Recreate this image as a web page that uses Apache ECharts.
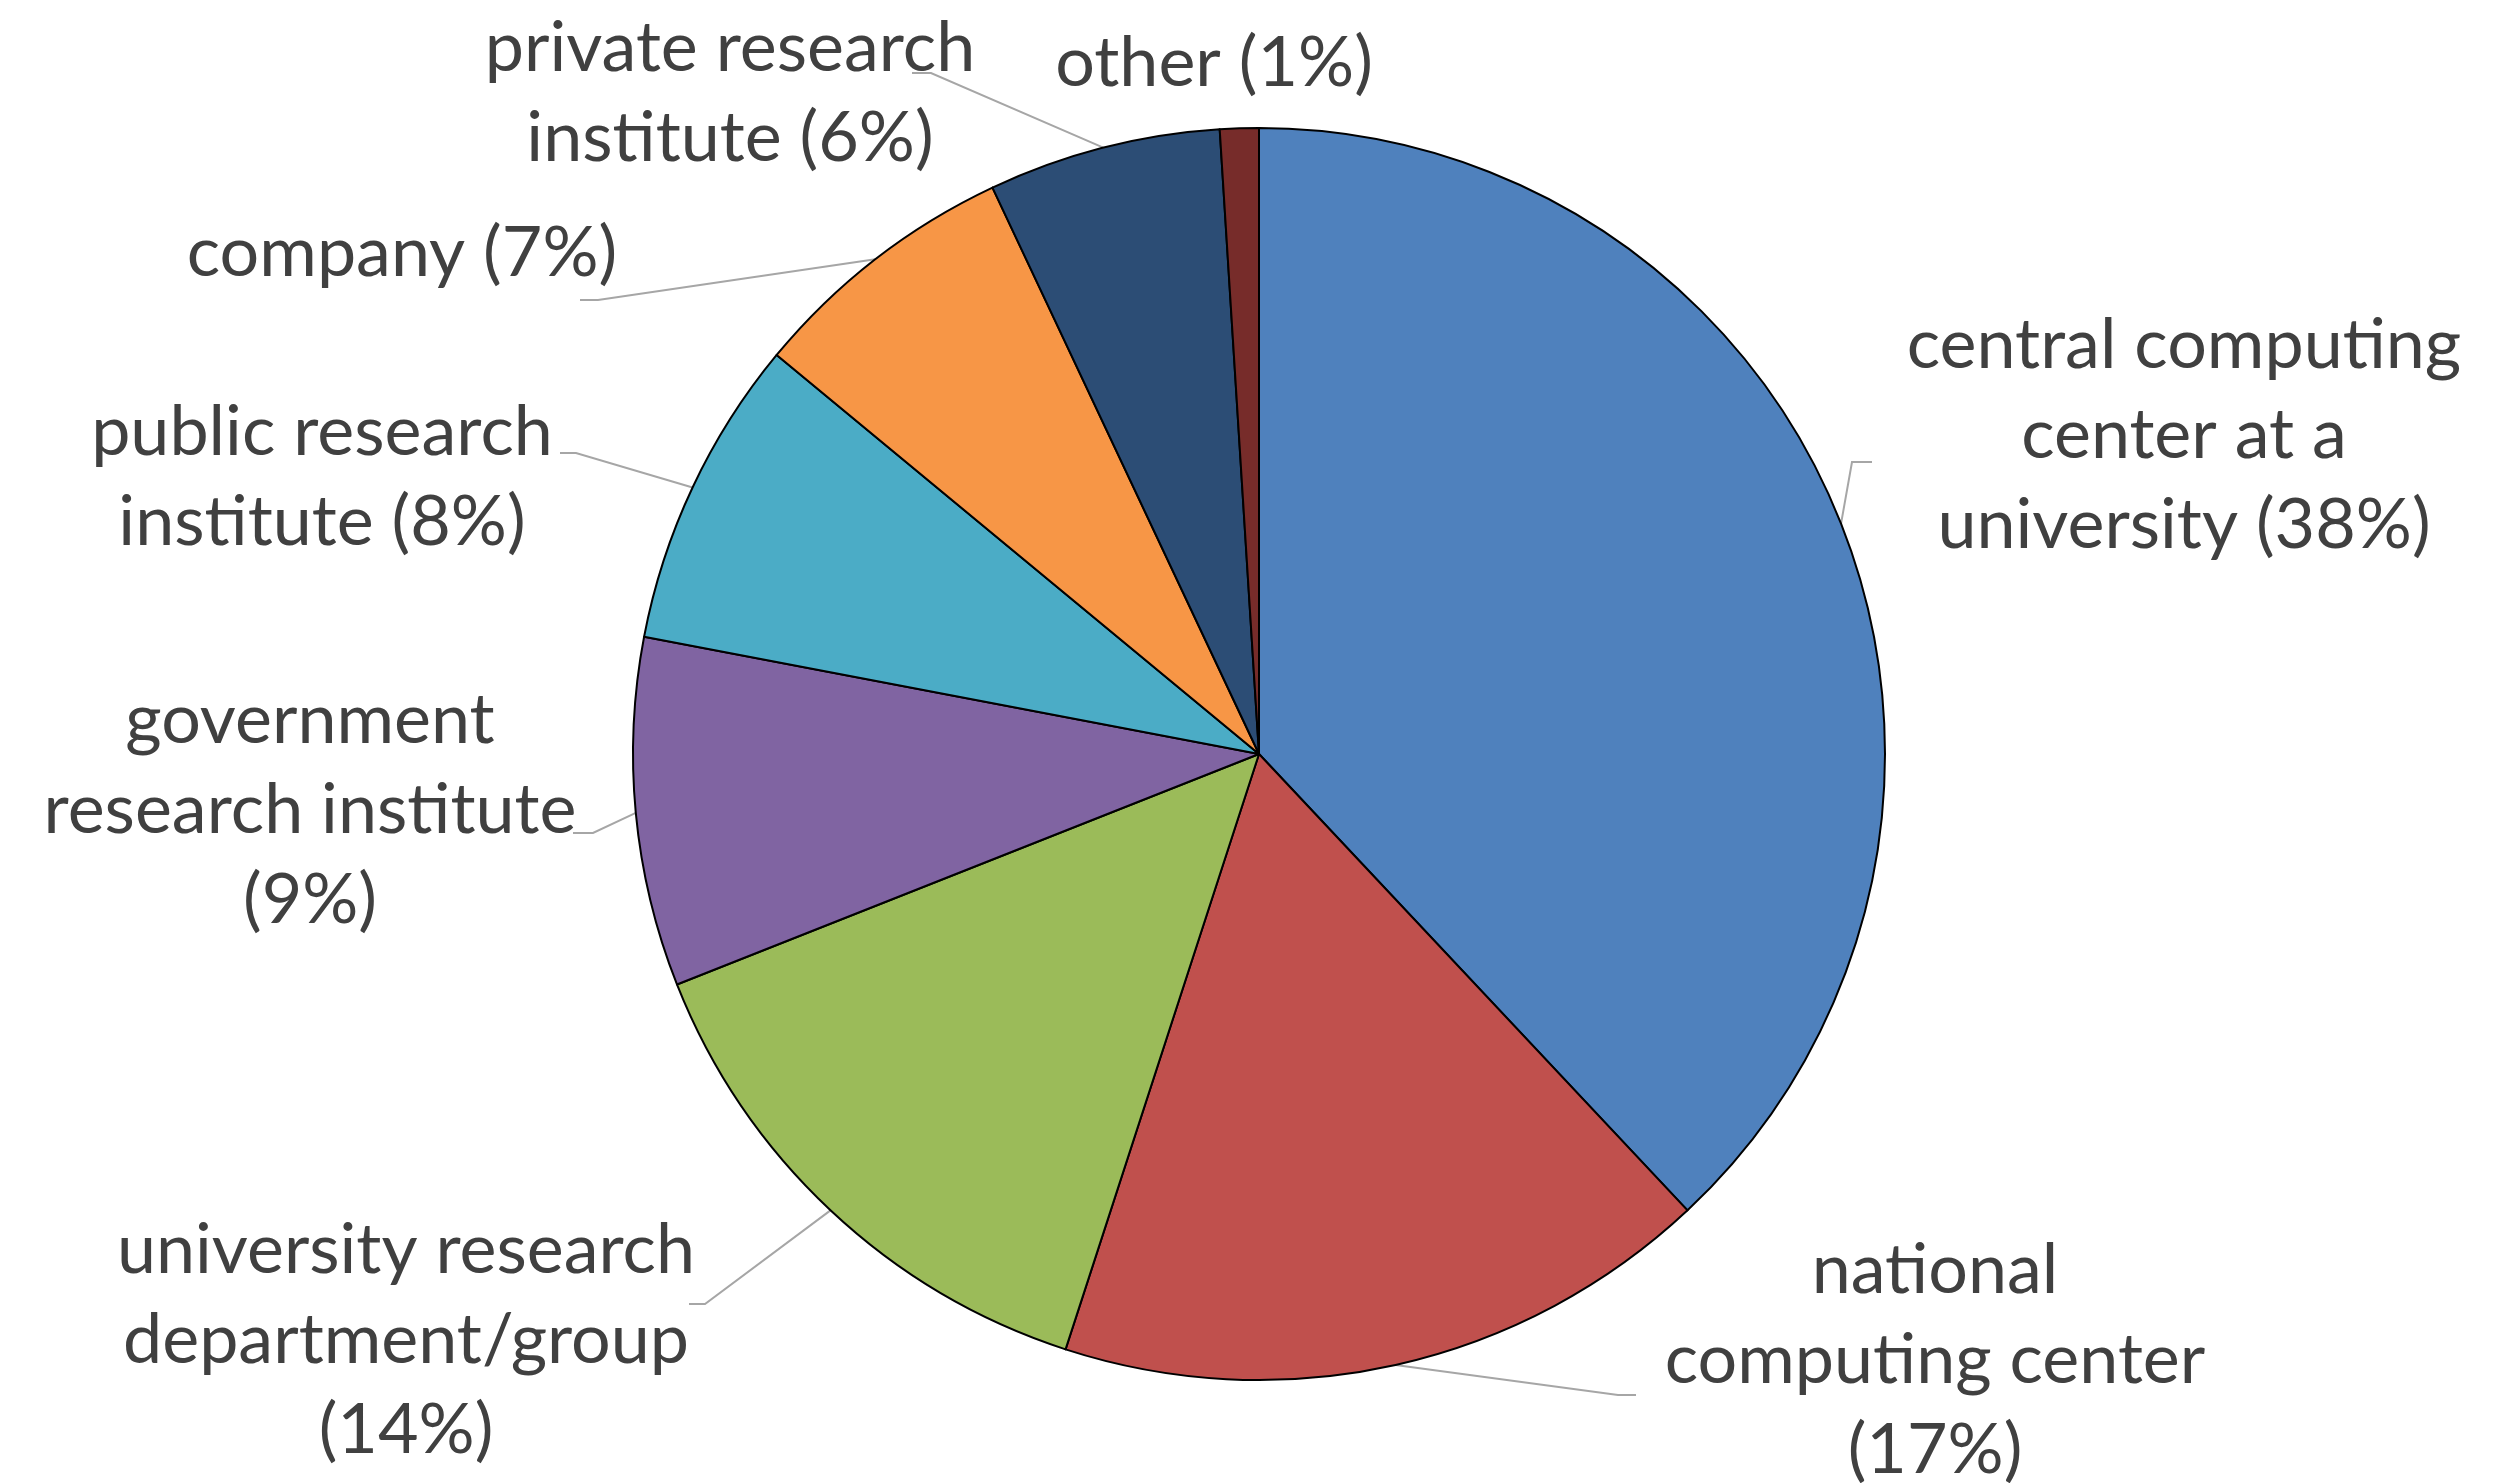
<!DOCTYPE html>
<html>
<head>
<meta charset="utf-8">
<title>Organisation types</title>
<script src="https://cdn.jsdelivr.net/npm/echarts@6/dist/echarts.min.js"></script>
<style>
  html, body { margin: 0; padding: 0; background: #ffffff; }
  #chart { width: 2515px; height: 1483px; }
</style>
</head>
<body>
<div id="chart"></div>
<script>
// Share of respondents by type of organisation (percent).
// A trailing "\n" in a name puts the percentage on its own line.
const categories = [
  'central computing\ncenter at a\nuniversity',
  'national\ncomputing center\n',
  'university research\ndepartment/group\n',
  'government\nresearch institute\n',
  'public research\ninstitute',
  'company',
  'private research\ninstitute',
  'other'
];
const values = [38, 17, 14, 9, 8, 7, 6, 1];
const colors = ['#4F81BD', '#C0504D', '#9BBB59', '#8064A2', '#4BACC6', '#F79646', '#2C4D75', '#772C2A'];

// Label placement (centre of each text block) and the elbow / end of its leader line, in px.
const labelCenters = [[2184, 435], [1935, 1360], [406, 1340], [310, 810], [322, 477], [402, 253], [730, 93], [1214, 63]];
const leaderElbows = [[1852, 462], [1618, 1395], [705, 1304], [593, 833], [576, 453], [598, 300], [931, 73], null];
const leaderEnds   = [[1872, 462], [1636, 1395], [689, 1304], [573, 833], [560, 453], [580, 300], [912, 73], null];

const chart = echarts.init(document.getElementById('chart'), null, { renderer: 'canvas' });

const data = categories.map((name, i) => ({
  name: name,
  value: values[i],
  itemStyle: { color: colors[i] },
  labelLine: { show: leaderEnds[i] !== null }
}));

chart.setOption({
  animation: false,
  backgroundColor: '#ffffff',
  series: [{
    type: 'pie',
    center: [1259, 754],
    radius: 626,
    startAngle: 90,
    clockwise: true,
    avoidLabelOverlap: false,
    emphasis: { disabled: true },
    itemStyle: { borderColor: '#000000', borderWidth: 2 },
    label: {
      show: true,
      position: 'outside',
      width: 800,
      overflow: 'none',
      align: 'center',
      fontFamily: 'Lato',
      fontSize: 70,
      lineHeight: 90,
      color: '#404040',
      formatter: p => p.name.endsWith('\n') ? `${p.name}(${p.value}%)` : `${p.name} (${p.value}%)`
    },
    labelLine: {
      show: true,
      smooth: false,
      lineStyle: { color: '#a6a6a6', width: 2 }
    },
    labelLayout: params => {
      const i = params.dataIndex;
      const out = {
        x: labelCenters[i][0],
        y: labelCenters[i][1],
        align: 'center',
        verticalAlign: 'middle'
      };
      if (leaderEnds[i] && params.labelLinePoints) {
        out.labelLinePoints = [
          params.labelLinePoints[0].slice(),
          leaderElbows[i].slice(),
          leaderEnds[i].slice()
        ];
      }
      return out;
    },
    data: data
  }]
});
</script>
</body>
</html>
